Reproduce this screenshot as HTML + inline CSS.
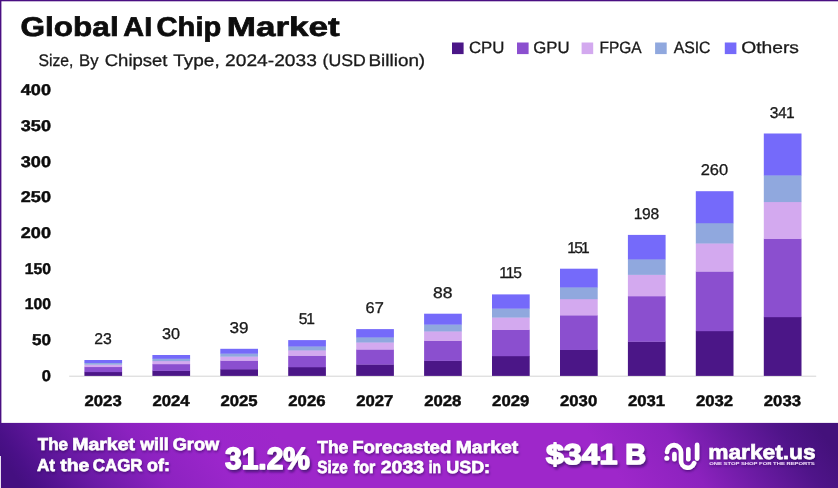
<!DOCTYPE html>
<html><head><meta charset="utf-8"><title>Global AI Chip Market</title>
<style>
html,body{margin:0;padding:0;background:#fff;}
body{width:838px;height:488px;overflow:hidden;font-family:"Liberation Sans", sans-serif;}
svg{display:block;font-family:"Liberation Sans", sans-serif;will-change:transform;}
</style></head><body>
<svg width="838" height="488" viewBox="0 0 838 488" text-rendering="geometricPrecision">
<defs>
<linearGradient id="bg" gradientUnits="userSpaceOnUse" x1="0" y1="455" x2="562.4" y2="61.3">
<stop offset="0" stop-color="#440f80"/>
<stop offset="0.019" stop-color="#4a1088"/>
<stop offset="0.09" stop-color="#6b1aa6"/>
<stop offset="0.174" stop-color="#8c22c0"/>
<stop offset="0.258" stop-color="#9b26cb"/>
<stop offset="0.353" stop-color="#9e27ca"/>
<stop offset="0.72" stop-color="#9e27ca"/>
<stop offset="0.815" stop-color="#8c22be"/>
<stop offset="0.883" stop-color="#6c1ba4"/>
<stop offset="0.952" stop-color="#4f1489"/>
<stop offset="1" stop-color="#44117b"/>
</linearGradient>
<filter id="sh" x="-5%" y="-30%" width="110%" height="170%"><feDropShadow dx="0.6" dy="1.6" stdDeviation="1.3" flood-color="#2a0650" flood-opacity="0.55"/></filter>
<filter id="sh2" x="-10%" y="-30%" width="120%" height="170%"><feDropShadow dx="1.5" dy="2.4" stdDeviation="1.3" flood-color="#3a0a68" flood-opacity="0.75"/></filter>
</defs>
<rect x="0" y="0" width="838" height="488" fill="#ffffff"/>
<rect x="0" y="0" width="838" height="1.3" fill="#4a0f82"/>
<rect x="0" y="0" width="1.4" height="456" fill="#4a0f82"/>
<text x="20.58" y="35.9" font-size="27.2" font-weight="bold" fill="#0d0d0d" text-anchor="start" textLength="98.06" lengthAdjust="spacingAndGlyphs" stroke="#0d0d0d" stroke-width="0.7">Global</text>
<text x="123.38" y="35.9" font-size="27.2" font-weight="bold" fill="#0d0d0d" text-anchor="start" textLength="28.84" lengthAdjust="spacingAndGlyphs" stroke="#0d0d0d" stroke-width="0.7">AI</text>
<text x="156.58" y="35.9" font-size="27.2" font-weight="bold" fill="#0d0d0d" text-anchor="start" textLength="64.7" lengthAdjust="spacingAndGlyphs" stroke="#0d0d0d" stroke-width="0.7">Chip</text>
<text x="226.78" y="35.9" font-size="27.2" font-weight="bold" fill="#0d0d0d" text-anchor="start" textLength="112.98" lengthAdjust="spacingAndGlyphs" stroke="#0d0d0d" stroke-width="0.7">Market</text>
<text x="38.48" y="66.3" font-size="16.8" font-weight="normal" fill="#1a1a1a" text-anchor="start" textLength="34.98" lengthAdjust="spacingAndGlyphs" stroke="#1a1a1a" stroke-width="0.3">Size,</text>
<text x="79.06" y="66.3" font-size="16.8" font-weight="normal" fill="#1a1a1a" text-anchor="start" textLength="19.46" lengthAdjust="spacingAndGlyphs" stroke="#1a1a1a" stroke-width="0.3">By</text>
<text x="104.72" y="66.3" font-size="16.8" font-weight="normal" fill="#1a1a1a" text-anchor="start" textLength="62.76" lengthAdjust="spacingAndGlyphs" stroke="#1a1a1a" stroke-width="0.3">Chipset</text>
<text x="173.24" y="66.3" font-size="16.8" font-weight="normal" fill="#1a1a1a" text-anchor="start" textLength="46.46" lengthAdjust="spacingAndGlyphs" stroke="#1a1a1a" stroke-width="0.3">Type,</text>
<text x="225.1" y="66.3" font-size="16.8" font-weight="normal" fill="#1a1a1a" text-anchor="start" textLength="91.8" lengthAdjust="spacingAndGlyphs" stroke="#1a1a1a" stroke-width="0.3">2024-2033</text>
<text x="322.58" y="66.3" font-size="16.8" font-weight="normal" fill="#1a1a1a" text-anchor="start" textLength="43.36" lengthAdjust="spacingAndGlyphs" stroke="#1a1a1a" stroke-width="0.3">(USD</text>
<text x="368.54" y="66.3" font-size="16.8" font-weight="normal" fill="#1a1a1a" text-anchor="start" textLength="56.64" lengthAdjust="spacingAndGlyphs" stroke="#1a1a1a" stroke-width="0.3">Billion)</text>
<rect x="452" y="42.5" width="11.6" height="11.6" fill="#4b1687"/>
<rect x="517.0" y="42.5" width="11.6" height="11.6" fill="#8b4fcf"/>
<rect x="581.6" y="42.5" width="11.6" height="11.6" fill="#d3a9ef"/>
<rect x="655.1" y="42.5" width="11.6" height="11.6" fill="#90a8de"/>
<rect x="724.8" y="42.5" width="11.6" height="11.6" fill="#756afa"/>
<text x="468.96" y="53.3" font-size="16.4" font-weight="normal" fill="#1a1a1a" text-anchor="start" textLength="35.5" lengthAdjust="spacingAndGlyphs" stroke="#1a1a1a" stroke-width="0.3">CPU</text>
<text x="533.2" y="53.3" font-size="16.4" font-weight="normal" fill="#1a1a1a" text-anchor="start" textLength="36.36" lengthAdjust="spacingAndGlyphs" stroke="#1a1a1a" stroke-width="0.3">GPU</text>
<text x="599.44" y="53.3" font-size="16.4" font-weight="normal" fill="#1a1a1a" text-anchor="start" textLength="42.18" lengthAdjust="spacingAndGlyphs" stroke="#1a1a1a" stroke-width="0.3">FPGA</text>
<text x="673.66" y="53.3" font-size="16.4" font-weight="normal" fill="#1a1a1a" text-anchor="start" textLength="36.86" lengthAdjust="spacingAndGlyphs" stroke="#1a1a1a" stroke-width="0.3">ASIC</text>
<text x="741.2" y="53.3" font-size="16.4" font-weight="normal" fill="#1a1a1a" text-anchor="start" textLength="57.84" lengthAdjust="spacingAndGlyphs" stroke="#1a1a1a" stroke-width="0.3">Others</text>
<text x="51" y="380.8" font-size="15.6" font-weight="bold" fill="#0d0d0d" text-anchor="end" textLength="9.2" lengthAdjust="spacingAndGlyphs" stroke="#0d0d0d" stroke-width="0.45">0</text>
<text x="51" y="345.1" font-size="15.6" font-weight="bold" fill="#0d0d0d" text-anchor="end" textLength="19" lengthAdjust="spacingAndGlyphs" stroke="#0d0d0d" stroke-width="0.45">50</text>
<text x="51" y="309.4" font-size="15.6" font-weight="bold" fill="#0d0d0d" text-anchor="end" textLength="26.2" lengthAdjust="spacingAndGlyphs" stroke="#0d0d0d" stroke-width="0.45">100</text>
<text x="51" y="273.6" font-size="15.6" font-weight="bold" fill="#0d0d0d" text-anchor="end" textLength="26.2" lengthAdjust="spacingAndGlyphs" stroke="#0d0d0d" stroke-width="0.45">150</text>
<text x="51" y="237.9" font-size="15.6" font-weight="bold" fill="#0d0d0d" text-anchor="end" textLength="30.2" lengthAdjust="spacingAndGlyphs" stroke="#0d0d0d" stroke-width="0.45">200</text>
<text x="51" y="202.2" font-size="15.6" font-weight="bold" fill="#0d0d0d" text-anchor="end" textLength="30.2" lengthAdjust="spacingAndGlyphs" stroke="#0d0d0d" stroke-width="0.45">250</text>
<text x="51" y="166.5" font-size="15.6" font-weight="bold" fill="#0d0d0d" text-anchor="end" textLength="30.2" lengthAdjust="spacingAndGlyphs" stroke="#0d0d0d" stroke-width="0.45">300</text>
<text x="51" y="130.7" font-size="15.6" font-weight="bold" fill="#0d0d0d" text-anchor="end" textLength="30.2" lengthAdjust="spacingAndGlyphs" stroke="#0d0d0d" stroke-width="0.45">350</text>
<text x="51" y="95.0" font-size="15.6" font-weight="bold" fill="#0d0d0d" text-anchor="end" textLength="30.2" lengthAdjust="spacingAndGlyphs" stroke="#0d0d0d" stroke-width="0.45">400</text>
<rect x="69.2" y="375.7" width="747.0" height="1" fill="#d4d4d4"/>
<rect x="84.4" y="371.82" width="37.7" height="4.08" fill="#4b1687"/>
<rect x="84.4" y="366.78" width="37.7" height="5.34" fill="#8b4fcf"/>
<rect x="84.4" y="364.40" width="37.7" height="2.68" fill="#d3a9ef"/>
<rect x="84.4" y="362.68" width="37.7" height="2.02" fill="#90a8de"/>
<rect x="84.4" y="360.00" width="37.7" height="2.98" fill="#756afa"/>
<text x="103.0" y="344.0" font-size="15.6" font-weight="normal" fill="#1a1a1a" text-anchor="middle" textLength="17.6" lengthAdjust="spacingAndGlyphs" stroke="#1a1a1a" stroke-width="0.3">23</text>
<text x="103.1" y="406.1" font-size="15.5" font-weight="bold" fill="#0d0d0d" text-anchor="middle" textLength="37.2" lengthAdjust="spacingAndGlyphs" stroke="#0d0d0d" stroke-width="0.45">2023</text>
<rect x="152.4" y="370.60" width="37.7" height="5.30" fill="#4b1687"/>
<rect x="152.4" y="363.95" width="37.7" height="6.95" fill="#8b4fcf"/>
<rect x="152.4" y="360.81" width="37.7" height="3.44" fill="#d3a9ef"/>
<rect x="152.4" y="358.54" width="37.7" height="2.57" fill="#90a8de"/>
<rect x="152.4" y="355.00" width="37.7" height="3.84" fill="#756afa"/>
<text x="170.9" y="339.0" font-size="15.6" font-weight="normal" fill="#1a1a1a" text-anchor="middle" textLength="18" lengthAdjust="spacingAndGlyphs" stroke="#1a1a1a" stroke-width="0.3">30</text>
<text x="171.0" y="406.1" font-size="15.5" font-weight="bold" fill="#0d0d0d" text-anchor="middle" textLength="37.2" lengthAdjust="spacingAndGlyphs" stroke="#0d0d0d" stroke-width="0.45">2024</text>
<rect x="220.3" y="369.10" width="37.7" height="6.80" fill="#4b1687"/>
<rect x="220.3" y="360.44" width="37.7" height="8.96" fill="#8b4fcf"/>
<rect x="220.3" y="356.36" width="37.7" height="4.39" fill="#d3a9ef"/>
<rect x="220.3" y="353.41" width="37.7" height="3.25" fill="#90a8de"/>
<rect x="220.3" y="348.80" width="37.7" height="4.91" fill="#756afa"/>
<text x="238.9" y="332.8" font-size="15.6" font-weight="normal" fill="#1a1a1a" text-anchor="middle" textLength="19" lengthAdjust="spacingAndGlyphs" stroke="#1a1a1a" stroke-width="0.3">39</text>
<text x="239.0" y="406.1" font-size="15.5" font-weight="bold" fill="#0d0d0d" text-anchor="middle" textLength="37.2" lengthAdjust="spacingAndGlyphs" stroke="#0d0d0d" stroke-width="0.45">2025</text>
<rect x="288.2" y="366.99" width="37.7" height="8.91" fill="#4b1687"/>
<rect x="288.2" y="355.52" width="37.7" height="11.77" fill="#8b4fcf"/>
<rect x="288.2" y="350.11" width="37.7" height="5.71" fill="#d3a9ef"/>
<rect x="288.2" y="346.21" width="37.7" height="4.21" fill="#90a8de"/>
<rect x="288.2" y="340.10" width="37.7" height="6.41" fill="#756afa"/>
<text x="306.8" y="324.1" font-size="15.6" font-weight="normal" fill="#1a1a1a" text-anchor="middle" textLength="16.2" lengthAdjust="spacing" stroke="#1a1a1a" stroke-width="0.3">51</text>
<text x="306.9" y="406.1" font-size="15.5" font-weight="bold" fill="#0d0d0d" text-anchor="middle" textLength="37.2" lengthAdjust="spacingAndGlyphs" stroke="#0d0d0d" stroke-width="0.45">2026</text>
<rect x="356.2" y="364.32" width="37.7" height="11.58" fill="#4b1687"/>
<rect x="356.2" y="349.30" width="37.7" height="15.32" fill="#8b4fcf"/>
<rect x="356.2" y="342.21" width="37.7" height="7.39" fill="#d3a9ef"/>
<rect x="356.2" y="337.10" width="37.7" height="5.42" fill="#90a8de"/>
<rect x="356.2" y="329.10" width="37.7" height="8.30" fill="#756afa"/>
<text x="374.7" y="313.1" font-size="15.6" font-weight="normal" fill="#1a1a1a" text-anchor="middle" textLength="18.2" lengthAdjust="spacingAndGlyphs" stroke="#1a1a1a" stroke-width="0.3">67</text>
<text x="374.8" y="406.1" font-size="15.5" font-weight="bold" fill="#0d0d0d" text-anchor="middle" textLength="37.2" lengthAdjust="spacingAndGlyphs" stroke="#0d0d0d" stroke-width="0.45">2027</text>
<rect x="424.1" y="360.59" width="37.7" height="15.31" fill="#4b1687"/>
<rect x="424.1" y="340.60" width="37.7" height="20.29" fill="#8b4fcf"/>
<rect x="424.1" y="331.16" width="37.7" height="9.74" fill="#d3a9ef"/>
<rect x="424.1" y="324.35" width="37.7" height="7.11" fill="#90a8de"/>
<rect x="424.1" y="313.70" width="37.7" height="10.95" fill="#756afa"/>
<text x="442.7" y="297.7" font-size="15.6" font-weight="normal" fill="#1a1a1a" text-anchor="middle" textLength="19.5" lengthAdjust="spacingAndGlyphs" stroke="#1a1a1a" stroke-width="0.3">88</text>
<text x="442.8" y="406.1" font-size="15.5" font-weight="bold" fill="#0d0d0d" text-anchor="middle" textLength="37.2" lengthAdjust="spacingAndGlyphs" stroke="#0d0d0d" stroke-width="0.45">2028</text>
<rect x="492.0" y="355.91" width="37.7" height="19.99" fill="#4b1687"/>
<rect x="492.0" y="329.68" width="37.7" height="26.53" fill="#8b4fcf"/>
<rect x="492.0" y="317.30" width="37.7" height="12.68" fill="#d3a9ef"/>
<rect x="492.0" y="308.37" width="37.7" height="9.23" fill="#90a8de"/>
<rect x="492.0" y="294.40" width="37.7" height="14.27" fill="#756afa"/>
<text x="510.6" y="278.4" font-size="15.6" font-weight="normal" fill="#1a1a1a" text-anchor="middle" textLength="22.5" lengthAdjust="spacing" stroke="#1a1a1a" stroke-width="0.3">115</text>
<text x="510.7" y="406.1" font-size="15.5" font-weight="bold" fill="#0d0d0d" text-anchor="middle" textLength="37.2" lengthAdjust="spacingAndGlyphs" stroke="#0d0d0d" stroke-width="0.45">2029</text>
<rect x="560.0" y="349.68" width="37.7" height="26.22" fill="#4b1687"/>
<rect x="560.0" y="315.15" width="37.7" height="34.83" fill="#8b4fcf"/>
<rect x="560.0" y="298.85" width="37.7" height="16.60" fill="#d3a9ef"/>
<rect x="560.0" y="287.09" width="37.7" height="12.06" fill="#90a8de"/>
<rect x="560.0" y="268.70" width="37.7" height="18.69" fill="#756afa"/>
<text x="578.5" y="252.7" font-size="15.6" font-weight="normal" fill="#1a1a1a" text-anchor="middle" textLength="22.5" lengthAdjust="spacing" stroke="#1a1a1a" stroke-width="0.3">151</text>
<text x="578.6" y="406.1" font-size="15.5" font-weight="bold" fill="#0d0d0d" text-anchor="middle" textLength="37.2" lengthAdjust="spacingAndGlyphs" stroke="#0d0d0d" stroke-width="0.45">2030</text>
<rect x="627.9" y="341.48" width="37.7" height="34.42" fill="#4b1687"/>
<rect x="627.9" y="296.03" width="37.7" height="45.75" fill="#8b4fcf"/>
<rect x="627.9" y="274.58" width="37.7" height="21.76" fill="#d3a9ef"/>
<rect x="627.9" y="259.10" width="37.7" height="15.78" fill="#90a8de"/>
<rect x="627.9" y="234.90" width="37.7" height="24.50" fill="#756afa"/>
<text x="646.4" y="218.9" font-size="15.6" font-weight="normal" fill="#1a1a1a" text-anchor="middle" textLength="25.5" lengthAdjust="spacing" stroke="#1a1a1a" stroke-width="0.3">198</text>
<text x="646.5" y="406.1" font-size="15.5" font-weight="bold" fill="#0d0d0d" text-anchor="middle" textLength="37.2" lengthAdjust="spacingAndGlyphs" stroke="#0d0d0d" stroke-width="0.45">2031</text>
<rect x="695.8" y="330.88" width="37.7" height="45.02" fill="#4b1687"/>
<rect x="695.8" y="271.32" width="37.7" height="59.86" fill="#8b4fcf"/>
<rect x="695.8" y="243.20" width="37.7" height="28.42" fill="#d3a9ef"/>
<rect x="695.8" y="222.92" width="37.7" height="20.58" fill="#90a8de"/>
<rect x="695.8" y="191.20" width="37.7" height="32.02" fill="#756afa"/>
<text x="714.4" y="175.2" font-size="15.6" font-weight="normal" fill="#1a1a1a" text-anchor="middle" textLength="27.5" lengthAdjust="spacingAndGlyphs" stroke="#1a1a1a" stroke-width="0.3">260</text>
<text x="714.5" y="406.1" font-size="15.5" font-weight="bold" fill="#0d0d0d" text-anchor="middle" textLength="37.2" lengthAdjust="spacingAndGlyphs" stroke="#0d0d0d" stroke-width="0.45">2032</text>
<rect x="763.8" y="316.89" width="37.7" height="59.01" fill="#4b1687"/>
<rect x="763.8" y="238.69" width="37.7" height="78.50" fill="#8b4fcf"/>
<rect x="763.8" y="201.77" width="37.7" height="37.22" fill="#d3a9ef"/>
<rect x="763.8" y="175.14" width="37.7" height="26.93" fill="#90a8de"/>
<rect x="763.8" y="133.50" width="37.7" height="41.94" fill="#756afa"/>
<text x="782.3" y="117.5" font-size="15.6" font-weight="normal" fill="#1a1a1a" text-anchor="middle" textLength="25" lengthAdjust="spacing" stroke="#1a1a1a" stroke-width="0.3">341</text>
<text x="782.4" y="406.1" font-size="15.5" font-weight="bold" fill="#0d0d0d" text-anchor="middle" textLength="37.2" lengthAdjust="spacingAndGlyphs" stroke="#0d0d0d" stroke-width="0.45">2033</text>
<rect x="0" y="422.9" width="838" height="65.10000000000002" fill="url(#bg)"/>
<rect x="0" y="456" width="1" height="32" fill="#e8def2"/>
<g filter="url(#sh)">
<text x="37.76" y="450.4" font-size="17.2" font-weight="bold" fill="#fff" text-anchor="start" textLength="30.26" lengthAdjust="spacingAndGlyphs" stroke="#fff" stroke-width="0.6">The</text>
<text x="72.2" y="450.4" font-size="17.2" font-weight="bold" fill="#fff" text-anchor="start" textLength="62.8" lengthAdjust="spacingAndGlyphs" stroke="#fff" stroke-width="0.6">Market</text>
<text x="140.28" y="450.4" font-size="17.2" font-weight="bold" fill="#fff" text-anchor="start" textLength="28.52" lengthAdjust="spacingAndGlyphs" stroke="#fff" stroke-width="0.6">will</text>
<text x="172.72" y="450.4" font-size="17.2" font-weight="bold" fill="#fff" text-anchor="start" textLength="46.5" lengthAdjust="spacingAndGlyphs" stroke="#fff" stroke-width="0.6">Grow</text>
<text x="36.96" y="470.9" font-size="17.2" font-weight="bold" fill="#fff" text-anchor="start" textLength="18.04" lengthAdjust="spacingAndGlyphs" stroke="#fff" stroke-width="0.6">At</text>
<text x="60.28" y="470.9" font-size="17.2" font-weight="bold" fill="#fff" text-anchor="start" textLength="29.02" lengthAdjust="spacingAndGlyphs" stroke="#fff" stroke-width="0.6">the</text>
<text x="92.72" y="470.9" font-size="17.2" font-weight="bold" fill="#fff" text-anchor="start" textLength="49.8" lengthAdjust="spacingAndGlyphs" stroke="#fff" stroke-width="0.6">CAGR</text>
<text x="147.0" y="470.9" font-size="17.2" font-weight="bold" fill="#fff" text-anchor="start" textLength="22.84" lengthAdjust="spacingAndGlyphs" stroke="#fff" stroke-width="0.6">of:</text>
<text x="317.24" y="453.1" font-size="17.4" font-weight="bold" fill="#fff" text-anchor="start" textLength="31.02" lengthAdjust="spacingAndGlyphs" stroke="#fff" stroke-width="0.6">The</text>
<text x="352.18" y="453.1" font-size="17.4" font-weight="bold" fill="#fff" text-anchor="start" textLength="99.12" lengthAdjust="spacingAndGlyphs" stroke="#fff" stroke-width="0.6">Forecasted</text>
<text x="455.7" y="453.1" font-size="17.4" font-weight="bold" fill="#fff" text-anchor="start" textLength="62.52" lengthAdjust="spacingAndGlyphs" stroke="#fff" stroke-width="0.6">Market</text>
<text x="317.24" y="473.4" font-size="17.4" font-weight="bold" fill="#fff" text-anchor="start" textLength="30.54" lengthAdjust="spacingAndGlyphs" stroke="#fff" stroke-width="0.6">Size</text>
<text x="353.78" y="473.4" font-size="17.4" font-weight="bold" fill="#fff" text-anchor="start" textLength="21.48" lengthAdjust="spacingAndGlyphs" stroke="#fff" stroke-width="0.6">for</text>
<text x="380.74" y="473.4" font-size="17.4" font-weight="bold" fill="#fff" text-anchor="start" textLength="43.3" lengthAdjust="spacingAndGlyphs" stroke="#fff" stroke-width="0.6">2033</text>
<text x="428.7" y="473.4" font-size="17.4" font-weight="bold" fill="#fff" text-anchor="start" textLength="12.32" lengthAdjust="spacingAndGlyphs" stroke="#fff" stroke-width="0.6">in</text>
<text x="446.2" y="473.4" font-size="17.4" font-weight="bold" fill="#fff" text-anchor="start" textLength="43.9" lengthAdjust="spacingAndGlyphs" stroke="#fff" stroke-width="0.6">USD:</text>
<text x="708.2" y="458.5" font-size="20.5" font-weight="bold" fill="#fff" text-anchor="start" textLength="107.46" lengthAdjust="spacingAndGlyphs" stroke="#fff" stroke-width="0.6">market.us</text>
<g fill="none" stroke="#fff" stroke-width="4.6" stroke-linecap="round"><path d="M667.0 452.0 A7 7 0 0 1 681.0 452.3 V460.3 A6.8 6.8 0 0 0 694.2 463.1"/><path d="M674.4 454.0 V459.2"/><path d="M688.3 449.2 V459.2"/><path d="M697.1 444.9 V458.6"/></g>
<circle cx="666.8" cy="458.2" r="2.5" fill="#fff"/>
<text x="709.2" y="464.8" font-size="4.3" font-weight="bold" fill="#f0dcfb" text-anchor="start" textLength="105.6" lengthAdjust="spacingAndGlyphs">ONE STOP SHOP FOR THE REPORTS</text>
</g>
<text x="225.1" y="468.5" font-size="30.8" font-weight="bold" fill="#fff" text-anchor="start" textLength="84.8" lengthAdjust="spacingAndGlyphs" stroke="#fff" stroke-width="1.5" stroke-linejoin="round" filter="url(#sh2)">31.2%</text>
<text x="545.9" y="464.4" font-size="28.6" font-weight="bold" fill="#fff" text-anchor="start" textLength="71.62" lengthAdjust="spacingAndGlyphs" stroke="#fff" stroke-width="1.5" stroke-linejoin="round" filter="url(#sh2)">$341</text>
<text x="625.3" y="464.4" font-size="28.6" font-weight="bold" fill="#fff" text-anchor="start" textLength="20.84" lengthAdjust="spacingAndGlyphs" stroke="#fff" stroke-width="1.5" stroke-linejoin="round" filter="url(#sh2)">B</text>
</svg>
</body></html>
